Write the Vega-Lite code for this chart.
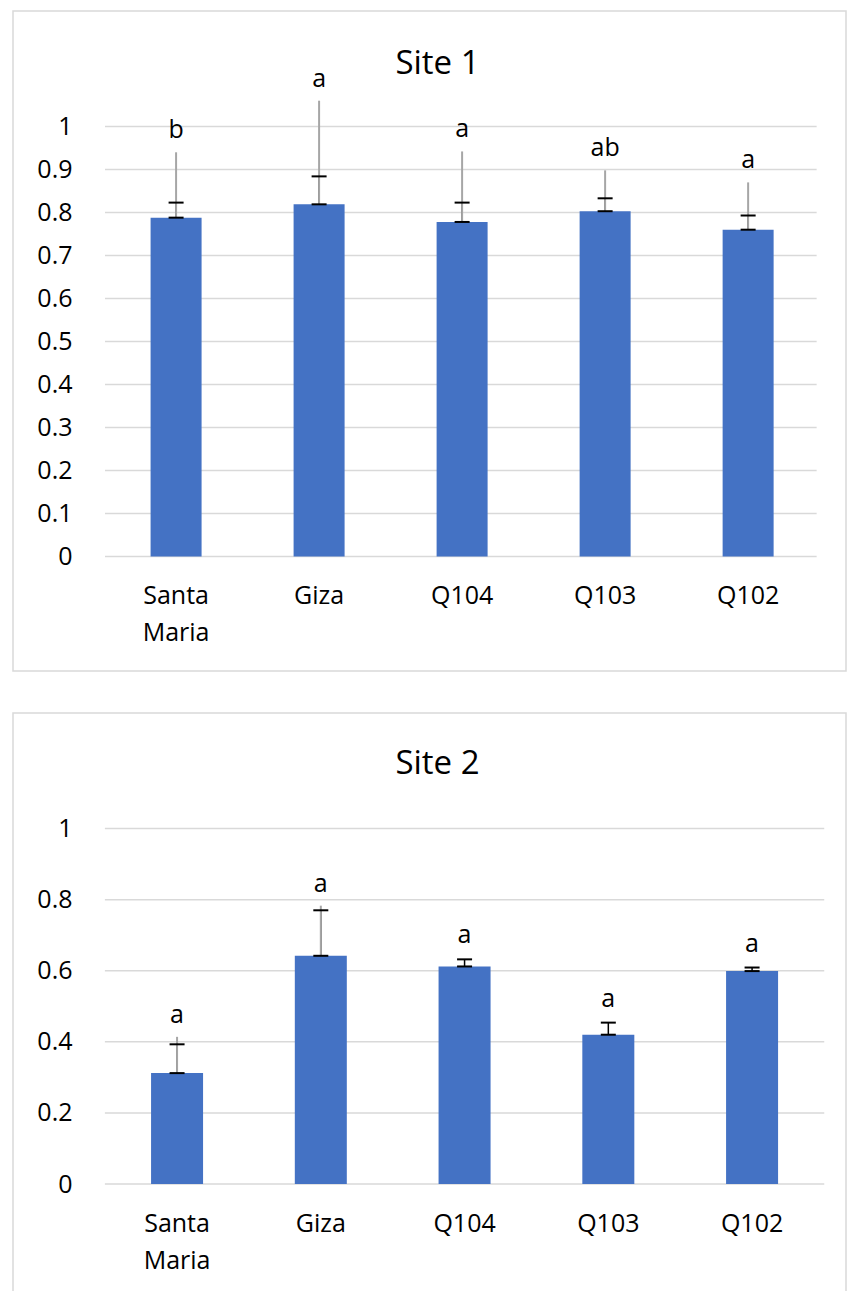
{
  "$schema": "https://vega.github.io/schema/vega-lite/v6.json",
  "padding": {"left": 12, "top": 10, "right": 0, "bottom": 0},
  "background": "white",
  "config": {
    "view": {"stroke": "#d9d9d9", "strokeWidth": 1.5},
    "font": "Open Sans",
    "text": {"font": "Open Sans", "color": "#000000"}
  },
  "spacing": 40,
  "datasets": {
    "site1": [
      {"order": 0, "cultivar": "Santa Maria", "mean": 0.788, "cap": 0.823, "leader": 0.94, "letter": "b"},
      {"order": 1, "cultivar": "Giza", "mean": 0.819, "cap": 0.884, "leader": 1.06, "letter": "a"},
      {"order": 2, "cultivar": "Q104", "mean": 0.778, "cap": 0.823, "leader": 0.942, "letter": "a"},
      {"order": 3, "cultivar": "Q103", "mean": 0.803, "cap": 0.833, "leader": 0.898, "letter": "ab"},
      {"order": 4, "cultivar": "Q102", "mean": 0.76, "cap": 0.793, "leader": 0.87, "letter": "a"}
    ],
    "site2": [
      {"order": 0, "cultivar": "Santa Maria", "mean": 0.312, "cap": 0.393, "leader": 0.414, "letter": "a"},
      {"order": 1, "cultivar": "Giza", "mean": 0.642, "cap": 0.77, "leader": 0.783, "letter": "a"},
      {"order": 2, "cultivar": "Q104", "mean": 0.612, "cap": 0.632, "leader": null, "letter": "a"},
      {"order": 3, "cultivar": "Q103", "mean": 0.42, "cap": 0.454, "leader": null, "letter": "a"},
      {"order": 4, "cultivar": "Q102", "mean": 0.599, "cap": 0.609, "leader": null, "letter": "a"}
    ],
    "ticks1": [{"v": 0}, {"v": 0.1}, {"v": 0.2}, {"v": 0.3}, {"v": 0.4}, {"v": 0.5}, {"v": 0.6}, {"v": 0.7}, {"v": 0.8}, {"v": 0.9}, {"v": 1}],
    "ticks2": [{"v": 0}, {"v": 0.2}, {"v": 0.4}, {"v": 0.6}, {"v": 0.8}, {"v": 1}]
  },
  "vconcat": [
    {
      "width": 833,
      "height": 660,
      "title": {"text": "Site 1", "fontSize": 33, "font": "Open Sans", "fontWeight": "normal", "color": "#000000", "anchor": "middle", "baseline": "alphabetic", "offset": -96, "dx": 8},
      "layer": [
        {
          "data": {"name": "ticks1"},
          "mark": {"type": "rule", "color": "#d9d9d9", "strokeWidth": 1.5},
          "encoding": {
            "y": {"field": "v", "type": "quantitative",
                  "scale": {"domain": [-0.2663, 1.2686], "nice": false, "zero": false},
                  "axis": {"values": [0, 0.1, 0.2, 0.3, 0.4, 0.5, 0.6, 0.7, 0.8, 0.9, 1], "format": "~g", "offset": -88, "grid": false, "domain": false, "ticks": false, "tickSize": 0, "labelPadding": 29, "labelFontSize": 25, "labelFont": "Open Sans", "labelColor": "#000000", "labelFlush": false, "labelOverlap": false, "title": null}},
            "x": {"datum": -0.497, "type": "quantitative", "scale": {"domain": [-1.1054, 4.6494], "nice": false, "zero": false}, "axis": null},
            "x2": {"datum": 4.479}
          }
        },
        {
          "data": {"name": "site1"},
          "mark": {"type": "bar", "color": "#4472C4", "size": 51, "orient": "vertical"},
          "encoding": {
            "x": {"field": "order", "type": "quantitative", "axis": null},
            "y": {"field": "mean", "type": "quantitative", "title": null},
            "y2": {"datum": 0}
          }
        },
        {
          "data": {"name": "site1"},
          "mark": {"type": "rule", "color": "#000000", "strokeWidth": 1.5},
          "encoding": {
            "x": {"field": "order", "type": "quantitative", "axis": null},
            "y": {"field": "mean", "type": "quantitative", "title": null},
            "y2": {"field": "cap"}
          }
        },
        {
          "data": {"name": "site1"},
          "transform": [{"filter": "isValid(datum.leader)"}],
          "mark": {"type": "rule", "color": "#a6a6a6", "strokeWidth": 2},
          "encoding": {
            "x": {"field": "order", "type": "quantitative", "axis": null},
            "y": {"field": "mean", "type": "quantitative", "title": null},
            "y2": {"field": "leader"}
          }
        },
        {
          "data": {"name": "site1"},
          "mark": {"type": "tick", "orient": "horizontal", "size": 15, "thickness": 2, "color": "#000000", "opacity": 1},
          "encoding": {
            "x": {"field": "order", "type": "quantitative", "axis": null},
            "y": {"field": "mean", "type": "quantitative", "title": null}
          }
        },
        {
          "data": {"name": "site1"},
          "mark": {"type": "tick", "orient": "horizontal", "size": 15, "thickness": 2, "color": "#000000", "opacity": 1},
          "encoding": {
            "x": {"field": "order", "type": "quantitative", "axis": null},
            "y": {"field": "cap", "type": "quantitative", "title": null}
          }
        },
        {
          "data": {"name": "site1"},
          "mark": {"type": "text", "fontSize": 25, "baseline": "alphabetic", "align": "center", "dy": -14, "color": "#000000"},
          "encoding": {
            "x": {"field": "order", "type": "quantitative", "axis": null},
            "y": {"field": "leader", "type": "quantitative", "title": null},
            "text": {"field": "letter"}
          }
        },
        {
          "data": {"name": "site1"},
          "mark": {"type": "text", "fontSize": 25, "baseline": "top", "align": "center", "dy": 28, "lineBreak": " ", "lineHeight": 37, "color": "#000000"},
          "encoding": {
            "x": {"field": "order", "type": "quantitative", "axis": null},
            "y": {"datum": 0, "type": "quantitative"},
            "text": {"field": "cultivar"}
          }
        }
      ]
    },
    {
      "width": 833,
      "height": 581,
      "title": {"text": "Site 2", "fontSize": 33, "font": "Open Sans", "fontWeight": "normal", "color": "#000000", "anchor": "middle", "baseline": "alphabetic", "offset": -94, "dx": 8},
      "layer": [
        {
          "data": {"name": "ticks2"},
          "mark": {"type": "rule", "color": "#d9d9d9", "strokeWidth": 1.5},
          "encoding": {
            "y": {"field": "v", "type": "quantitative",
                  "scale": {"domain": [-0.3094, 1.325], "nice": false, "zero": false},
                  "axis": {"values": [0, 0.2, 0.4, 0.6, 0.8, 1], "format": "~g", "offset": -88, "grid": false, "domain": false, "ticks": false, "tickSize": 0, "labelPadding": 29, "labelFontSize": 25, "labelFont": "Open Sans", "labelColor": "#000000", "labelFlush": false, "labelOverlap": false, "title": null}},
            "x": {"datum": -0.502, "type": "quantitative", "scale": {"domain": [-1.1065, 4.6186], "nice": false, "zero": false}, "axis": null},
            "x2": {"datum": 4.502}
          }
        },
        {
          "data": {"name": "site2"},
          "mark": {"type": "bar", "color": "#4472C4", "size": 52, "orient": "vertical"},
          "encoding": {
            "x": {"field": "order", "type": "quantitative", "axis": null},
            "y": {"field": "mean", "type": "quantitative", "title": null},
            "y2": {"datum": 0}
          }
        },
        {
          "data": {"name": "site2"},
          "mark": {"type": "rule", "color": "#000000", "strokeWidth": 1.5},
          "encoding": {
            "x": {"field": "order", "type": "quantitative", "axis": null},
            "y": {"field": "mean", "type": "quantitative", "title": null},
            "y2": {"field": "cap"}
          }
        },
        {
          "data": {"name": "site2"},
          "transform": [{"filter": "isValid(datum.leader)"}],
          "mark": {"type": "rule", "color": "#a6a6a6", "strokeWidth": 2},
          "encoding": {
            "x": {"field": "order", "type": "quantitative", "axis": null},
            "y": {"field": "mean", "type": "quantitative", "title": null},
            "y2": {"field": "leader"}
          }
        },
        {
          "data": {"name": "site2"},
          "mark": {"type": "tick", "orient": "horizontal", "size": 15, "thickness": 2, "color": "#000000", "opacity": 1},
          "encoding": {
            "x": {"field": "order", "type": "quantitative", "axis": null},
            "y": {"field": "mean", "type": "quantitative", "title": null}
          }
        },
        {
          "data": {"name": "site2"},
          "mark": {"type": "tick", "orient": "horizontal", "size": 15, "thickness": 2, "color": "#000000", "opacity": 1},
          "encoding": {
            "x": {"field": "order", "type": "quantitative", "axis": null},
            "y": {"field": "cap", "type": "quantitative", "title": null}
          }
        },
        {
          "data": {"name": "site2"},
          "transform": [{"filter": "isValid(datum.leader)"}],
          "mark": {"type": "text", "fontSize": 25, "baseline": "alphabetic", "align": "center", "dy": -14, "color": "#000000"},
          "encoding": {
            "x": {"field": "order", "type": "quantitative", "axis": null},
            "y": {"field": "leader", "type": "quantitative", "title": null},
            "text": {"field": "letter"}
          }
        },
        {
          "data": {"name": "site2"},
          "transform": [{"filter": "!isValid(datum.leader)"}],
          "mark": {"type": "text", "fontSize": 25, "baseline": "alphabetic", "align": "center", "dy": -16, "color": "#000000"},
          "encoding": {
            "x": {"field": "order", "type": "quantitative", "axis": null},
            "y": {"field": "cap", "type": "quantitative", "title": null},
            "text": {"field": "letter"}
          }
        },
        {
          "data": {"name": "site2"},
          "mark": {"type": "text", "fontSize": 25, "baseline": "top", "align": "center", "dy": 28, "lineBreak": " ", "lineHeight": 37, "color": "#000000"},
          "encoding": {
            "x": {"field": "order", "type": "quantitative", "axis": null},
            "y": {"datum": 0, "type": "quantitative"},
            "text": {"field": "cultivar"}
          }
        }
      ]
    }
  ]
}
